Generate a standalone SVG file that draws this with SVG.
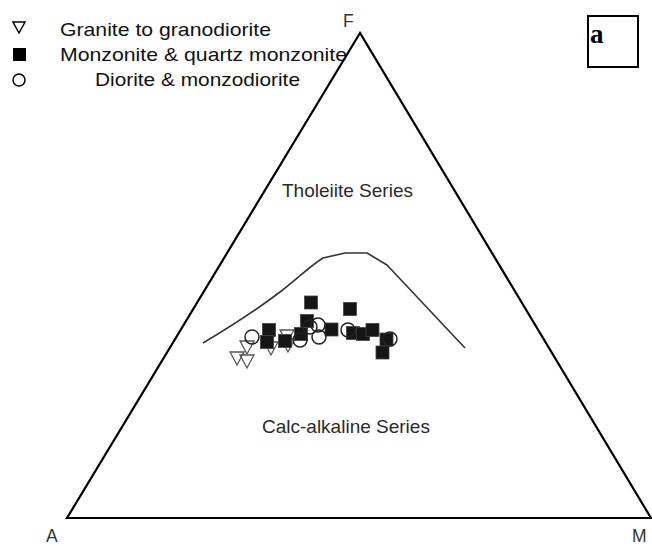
<svg xmlns="http://www.w3.org/2000/svg" width="652" height="546" viewBox="0 0 652 546">
<style>
.lbl{font-family:"Liberation Sans",Arial,sans-serif;fill:#111}
.ax{font-family:"Liberation Sans",Arial,sans-serif;font-size:17.5px;fill:#333}
.ser{font-family:"Liberation Sans",Arial,sans-serif;font-size:19px;fill:#2a2a2a}
.tri{fill:none;stroke:#555;stroke-width:1.3}
.sq{fill:#151515;stroke:#444;stroke-width:0.8}
.cir{fill:none;stroke:#222;stroke-width:1.5}
</style>
<defs>
<path id="tr" d="M-7,-6 L7,-6 L0,7 Z"/>
<rect id="sq" x="-6.5" y="-6.5" width="13" height="13"/>
<circle id="ci" r="7"/>
</defs>
<rect width="652" height="546" fill="#fff"/>
<g id="legend">
<path d="M13,22 L25,22 L19,33 Z" fill="none" stroke="#000" stroke-width="1.5"/>
<text class="lbl" x="60" y="36" font-size="19" textLength="211" lengthAdjust="spacingAndGlyphs">Granite to granodiorite</text>
<rect x="13" y="48" width="13" height="13" fill="#000"/>
<text class="lbl" x="60" y="61" font-size="19" textLength="287" lengthAdjust="spacingAndGlyphs">Monzonite &amp; quartz monzonite</text>
<circle cx="19" cy="80" r="6" fill="none" stroke="#000" stroke-width="1.5"/>
<text class="lbl" x="95" y="86" font-size="19" textLength="205" lengthAdjust="spacingAndGlyphs">Diorite &amp; monzodiorite</text>
</g>
<g id="panel-label">
<rect x="588" y="16" width="50" height="51" fill="none" stroke="#000" stroke-width="2"/>
<text x="590" y="43" font-family="'Liberation Serif','Times New Roman',serif" font-weight="bold" font-size="27" fill="#000">a</text>
</g>
<g id="ternary">
<path d="M360,33 L67,518 L651,518 Z" fill="none" stroke="#000" stroke-width="2.2" stroke-linejoin="miter"/>
<text class="ax" x="343" y="27">F</text>
<text class="ax" x="46" y="542">A</text>
<text class="ax" x="632" y="542">M</text>
</g>
<g id="divider">
<path d="M203,343 C230,327 255,311 280,292 C297,279 310,266 323,258 L345,253 L367,253 L387,265 L465,348" fill="none" stroke="#333" stroke-width="1.6" stroke-linejoin="round"/>
</g>
<g id="series-labels">
<text class="ser" x="282" y="197">Tholeiite Series</text>
<text class="ser" x="262" y="433">Calc-alkaline Series</text>
</g>
<g id="data">
<g id="granite">
<use href="#tr" class="tri" x="247" y="347"/>
<use href="#tr" class="tri" x="237" y="358"/>
<use href="#tr" class="tri" x="247" y="361"/>
<use href="#tr" class="tri" x="287" y="336"/>
<use href="#tr" class="tri" x="271" y="348"/>
<use href="#tr" class="tri" x="288" y="345"/>
</g>
<g id="monzonite">
<use href="#sq" class="sq" x="311" y="302.5"/>
<use href="#sq" class="sq" x="350" y="309"/>
<use href="#sq" class="sq" x="307" y="321"/>
<use href="#sq" class="sq" x="269" y="330"/>
<use href="#sq" class="sq" x="267" y="342"/>
<use href="#sq" class="sq" x="285" y="341"/>
<use href="#sq" class="sq" x="301" y="334"/>
<use href="#sq" class="sq" x="331.5" y="329.5"/>
<use href="#sq" class="sq" x="353" y="333"/>
<use href="#sq" class="sq" x="363" y="334"/>
<use href="#sq" class="sq" x="372.5" y="330"/>
<use href="#sq" class="sq" x="386.5" y="339.5"/>
<use href="#sq" class="sq" x="382.5" y="352.5"/>
</g>
<g id="diorite">
<use href="#ci" class="cir" x="252" y="337"/>
<use href="#ci" class="cir" x="300" y="340"/>
<use href="#ci" class="cir" x="310" y="327"/>
<use href="#ci" class="cir" x="318" y="325"/>
<use href="#ci" class="cir" x="319" y="337"/>
<use href="#ci" class="cir" x="348" y="330"/>
<use href="#ci" class="cir" x="390" y="339"/>
</g>
</g>
</svg>
